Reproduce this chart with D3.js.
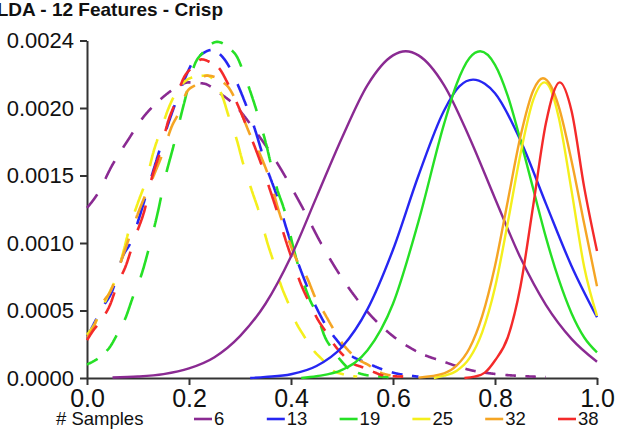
<!DOCTYPE html>
<html>
<head>
<meta charset="utf-8">
<script src="https://cdn.jsdelivr.net/npm/d3@7"></script>
<style>
  body { margin: 0; background: #fff; }
  svg { display: block; font-family: "Liberation Sans", Arial, sans-serif; }
</style>
</head>
<body>
<svg id="chart" width="625" height="429"></svg>
<script>
/////////////////////////////////////////////////////////////////////////
// data

var samples = ['6', '13', '19', '25', '32', '38']
var colors = ['#8a2a92', '#2626f2', '#26e026', '#f4ef1c', '#f5a524', '#f42a2a']

var yTicks = [0, 0.0005, 0.001, 0.0015, 0.002, 0.0025]
var yTickLabels = ['0.0000', '0.0005', '0.0010', '0.0015', '0.0020', '0.0024']
var xTicks = [0, 0.2, 0.4, 0.6, 0.8, 1.0]

// dashed curves (left group)
var dashed6 = [[0,0.00126],[0.02,0.00136],[0.05,0.00158],[0.08,0.00176],[0.11,0.00193],[0.14,0.00205],[0.17,0.00214],[0.20,0.00219],[0.23,0.00218],[0.26,0.00211],[0.29,0.00202],[0.33,0.00183],[0.37,0.00161],[0.42,0.00128],[0.46,0.00099],[0.50,0.00074],[0.55,0.00049],[0.60,0.00031],[0.65,0.00019],[0.70,0.00012],[0.75,0.00006],[0.80,0.00003],[0.85,0.000015],[0.90,0.000007]]
var dashed13 = [[0,0.0003],[0.03,0.00052],[0.05,0.00065],[0.07,0.0009],[0.085,0.001],[0.105,0.00122],[0.12,0.00141],[0.145,0.00172],[0.17,0.002],[0.19,0.0022],[0.206,0.00233],[0.222,0.00239],[0.245,0.00243],[0.26,0.0024],[0.275,0.00233],[0.29,0.00222],[0.31,0.00204],[0.325,0.00189],[0.353,0.00155],[0.373,0.00134],[0.39,0.00112],[0.42,0.00079],[0.45,0.00052],[0.47,0.00038],[0.49,0.00028],[0.51,0.00019],[0.55,0.00011],[0.59,0.00005],[0.65,0.00001]]
var dashed19 = [[0,0.0001],[0.03,0.00017],[0.045,0.00023],[0.06,0.00033],[0.075,0.00044],[0.09,0.0006],[0.108,0.00078],[0.124,0.001],[0.139,0.00123],[0.153,0.00148],[0.169,0.00171],[0.19,0.00203],[0.212,0.00233],[0.227,0.00241],[0.255,0.00249],[0.28,0.00244],[0.294,0.00238],[0.31,0.00223],[0.324,0.00208],[0.35,0.00175],[0.372,0.00141],[0.388,0.00123],[0.405,0.00096],[0.437,0.00058],[0.45,0.00048],[0.467,0.0003],[0.48,0.00022],[0.50,0.00012],[0.51,0.00008],[0.53,0.00004],[0.55,0.00002],[0.60,0.000005]]
var dashed25 = [[0,0.00032],[0.015,0.0004],[0.031,0.00053],[0.045,0.00064],[0.059,0.00076],[0.071,0.00093],[0.084,0.00112],[0.10,0.0013],[0.118,0.00149],[0.13,0.00167],[0.147,0.00186],[0.159,0.00199],[0.185,0.00217],[0.21,0.00223],[0.235,0.00224],[0.255,0.00217],[0.267,0.00207],[0.276,0.00196],[0.294,0.00176],[0.306,0.00159],[0.323,0.00139],[0.339,0.00121],[0.353,0.00101],[0.365,0.00087],[0.382,0.00067],[0.394,0.00056],[0.41,0.00041],[0.424,0.00032],[0.443,0.00021],[0.463,0.00013],[0.48,0.00006],[0.50,0.00003],[0.53,0.00001]]
var dashed32 = [[0,0.0003],[0.012,0.00037],[0.03,0.00055],[0.047,0.00065],[0.07,0.0009],[0.10,0.00122],[0.133,0.00152],[0.147,0.00165],[0.167,0.00187],[0.178,0.00195],[0.196,0.00212],[0.212,0.00217],[0.235,0.00224],[0.25,0.00223],[0.267,0.00219],[0.276,0.00216],[0.296,0.00202],[0.306,0.00193],[0.32,0.0018],[0.34,0.00165],[0.36,0.00145],[0.375,0.00125],[0.392,0.00106],[0.408,0.0009],[0.433,0.00073],[0.447,0.0006],[0.467,0.00047],[0.482,0.00037],[0.50,0.00026],[0.516,0.00019],[0.535,0.00013],[0.55,0.0001],[0.575,0.00004],[0.594,0.00002],[0.62,0.00001]]
var dashed38 = [[0,0.00028],[0.01,0.00034],[0.03,0.00044],[0.045,0.00054],[0.06,0.0007],[0.075,0.00082],[0.094,0.00104],[0.114,0.00126],[0.127,0.00148],[0.143,0.00167],[0.159,0.0019],[0.173,0.00204],[0.188,0.00221],[0.206,0.0023],[0.225,0.00236],[0.241,0.00234],[0.26,0.00229],[0.275,0.00219],[0.29,0.00207],[0.306,0.00193],[0.323,0.00177],[0.343,0.00157],[0.36,0.00138],[0.373,0.00123],[0.388,0.00104],[0.402,0.00088],[0.42,0.00069],[0.437,0.00055],[0.453,0.00043],[0.467,0.00035],[0.486,0.00024],[0.502,0.00017],[0.52,0.00011],[0.54,0.00008],[0.565,0.00004],[0.58,0.00002],[0.62,0.00001]]

// solid curves (right group)
var solid6 = [[0.05,0.000004],[0.10,0.000011],[0.15,0.000029],[0.20,0.000071],[0.25,0.000154],[0.30,0.00031],[0.35,0.00055],[0.40,0.0009],[0.45,0.00134],[0.50,0.00178],[0.55,0.00217],[0.60,0.00239],[0.625,0.00242],[0.65,0.00239],[0.70,0.00217],[0.75,0.00178],[0.80,0.00133],[0.85,0.00089],[0.90,0.00054],[0.95,0.00029],[1.00,0.00012]]
var solid13 = [[0.32,0],[0.35,0.000008],[0.40,0.000028],[0.45,0.000089],[0.50,0.00023],[0.55,0.00051],[0.60,0.00095],[0.65,0.0015],[0.70,0.00198],[0.73,0.00216],[0.757,0.00221],[0.78,0.00218],[0.80,0.00211],[0.85,0.00176],[0.90,0.00129],[0.95,0.00083],[1.00,0.00045]]
var solid19 = [[0.42,0],[0.45,0.000013],[0.50,0.00006],[0.55,0.000205],[0.60,0.00055],[0.65,0.00116],[0.70,0.00188],[0.725,0.00218],[0.75,0.00237],[0.771,0.00242],[0.80,0.00232],[0.825,0.00209],[0.85,0.00176],[0.875,0.0014],[0.90,0.00104],[0.925,0.00073],[0.95,0.00048],[0.975,0.0003],[1.00,0.00019]]
var solid25 = [[0.68,0],[0.70,0.000017],[0.725,0.000054],[0.75,0.000147],[0.775,0.00034],[0.80,0.00067],[0.825,0.00115],[0.85,0.00166],[0.875,0.00206],[0.897,0.00219],[0.91,0.00213],[0.925,0.00193],[0.95,0.00139],[0.975,0.00082],[1.00,0.00046]]
var solid32 = [[0.65,0.000003],[0.70,0.000034],[0.725,0.000093],[0.75,0.00022],[0.775,0.00046],[0.80,0.00083],[0.825,0.00131],[0.85,0.00179],[0.875,0.00213],[0.894,0.00222],[0.91,0.00216],[0.925,0.00201],[0.95,0.00161],[0.975,0.00114],[1.00,0.00068]]
var solid38 = [[0.74,0],[0.76,0.00001],[0.78,0.00004],[0.80,0.00013],[0.825,0.0003],[0.85,0.00068],[0.875,0.00128],[0.90,0.00189],[0.927,0.00219],[0.95,0.00198],[0.975,0.00141],[1.00,0.00094]]

var dashedSeries = [dashed6, dashed13, dashed19, dashed25, dashed32, dashed38]
var solidSeries = [solid6, solid13, solid19, solid25, solid32, solid38]

/////////////////////////////////////////////////////////////////////////
// layout

var svg = d3.select('#chart')
var x = d3.scaleLinear().domain([0, 1]).range([87, 597])
var y = d3.scaleLinear().domain([0, 0.0025]).range([378, 40.5])

var line = d3.line()
	.x(function(d) { return x(d[0]) })
	.y(function(d) { return y(d[1]) })
	.curve(d3.curveMonotoneX)

// dashes measured mostly along x, like the stretched original
function dashed(d, on, off, k) {
	var tmp = svg.append('path').attr('d', d).attr('fill', 'none')
	var node = tmp.node()
	var total = node.getTotalLength()
	var prev = node.getPointAtLength(0)
	var s = 0, segs = [], cur = null
	for (var l = 0; l <= total; l += 0.5) {
		var p = node.getPointAtLength(l)
		var dx = p.x - prev.x, dy = (p.y - prev.y) / k
		s += Math.sqrt(dx * dx + dy * dy)
		if (s % (on + off) < on) {
			if (!cur) { cur = [p]; segs.push(cur) } else cur.push(p)
		} else cur = null
		prev = p
	}
	tmp.remove()
	return segs.filter(function(g) { return g.length > 1 }).map(function(g) {
		return 'M' + g.map(function(p) { return p.x.toFixed(2) + ',' + p.y.toFixed(2) }).join('L')
	}).join('')
}

/////////////////////////////////////////////////////////////////////////
// axes

var yAxis = svg.append('g')
	.attr('transform', 'translate(87,0)')
	.call(d3.axisLeft(y).tickValues(yTicks).tickFormat(function(d, i) { return yTickLabels[i] })
		.tickSize(7).tickSizeOuter(0).tickPadding(6))
yAxis.selectAll('text').attr('font-size', 22).attr('fill', '#111').attr('font-family', null)

var xAxis = svg.append('g')
	.attr('transform', 'translate(0,378)')
	.call(d3.axisBottom(x).tickValues(xTicks).tickFormat(d3.format('.1f'))
		.tickSize(7).tickSizeOuter(0).tickPadding(4))
xAxis.selectAll('text').attr('font-size', 25).attr('fill', '#111').attr('font-family', null)

svg.selectAll('.domain, .tick line').attr('stroke', '#333').attr('stroke-width', 2)

/////////////////////////////////////////////////////////////////////////
// curves

dashedSeries.forEach(function(data, i) {
	svg.append('path')
		.attr('d', dashed(line(data), 11, 9, 3.5))
		.attr('fill', 'none')
		.attr('stroke', colors[i])
		.attr('stroke-width', 2.6)
})

solidSeries.forEach(function(data, i) {
	svg.append('path')
		.attr('d', line(data))
		.attr('fill', 'none')
		.attr('stroke', colors[i])
		.attr('stroke-width', 2.4)
})

/////////////////////////////////////////////////////////////////////////
// title and legend

svg.append('text')
	.attr('x', 223).attr('y', 16)
	.attr('text-anchor', 'end')
	.attr('font-size', 19).attr('font-weight', 'bold').attr('fill', '#111')
	.text('LDA - 12 Features - Crisp')

svg.append('text')
	.attr('x', 56).attr('y', 425)
	.attr('font-size', 18.5).attr('fill', '#111')
	.text('# Samples')

var legend = svg.selectAll('.legend').data(samples).enter().append('g')
	.attr('class', 'legend')
	.attr('transform', function(d, i) { return 'translate(' + (194 + i * 72.8) + ',0)' })

legend.append('line')
	.attr('x1', 0).attr('x2', 18).attr('y1', 419).attr('y2', 419)
	.attr('stroke', function(d, i) { return colors[i] })
	.attr('stroke-width', 2.6)

legend.append('text')
	.attr('x', 20).attr('y', 425)
	.attr('font-size', 18.5).attr('fill', '#111')
	.text(function(d) { return d })
</script>
</body>
</html>
